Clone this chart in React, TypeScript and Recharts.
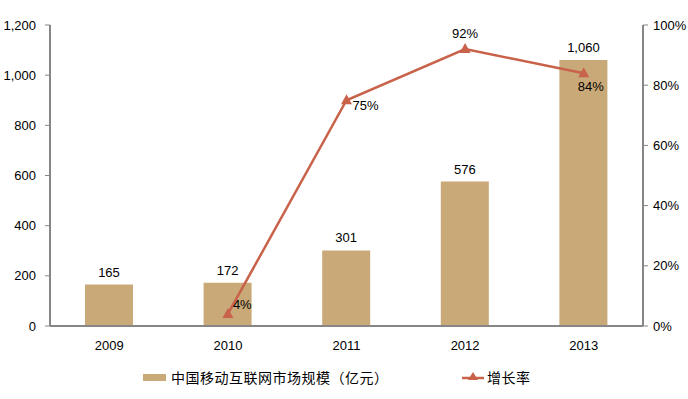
import React from "react";
import {
  ComposedChart,
  Bar,
  Line,
  XAxis,
  YAxis,
  LabelList,
  Legend,
} from "recharts";

const years = ["2009", "2010", "2011", "2012", "2013"];
const marketSize = [165, 172, 301, 576, 1060];
const growth: (number | null)[] = [null, 0.04, 0.75, 0.92, 0.84];
const leftTicks = [0, 200, 400, 600, 800, 1000, 1200];
const rightTicks = [0, 0.2, 0.4, 0.6, 0.8, 1];

const BAR = "#C9A978";
const LINE = "#C8624A";
const AXIS = "#868686";
const FONT = "'Liberation Sans', Arial, sans-serif";
const CJK = "'Noto Sans CJK SC', sans-serif";

const rows = years.map((y, i) => ({
  year: y,
  idx: i + 0.5,
  size: marketSize[i],
  growth: growth[i],
}));

// where each growth label sits relative to its point
const growthOffsets = [
  { dx: 0, dy: 0, anchor: "middle" },
  { dx: 5, dy: -5, anchor: "start" },
  { dx: 6, dy: 10, anchor: "start" },
  { dx: 0, dy: -11, anchor: "middle" },
  { dx: -6, dy: 18, anchor: "start" },
];

function GrowthLabel(props: any) {
  const { x, y, value, index } = props;
  if (value == null) return null;
  const o = growthOffsets[index];
  return (
    <text
      x={x + o.dx}
      y={y + o.dy}
      textAnchor={o.anchor}
      fontSize={13}
      fontFamily={FONT}
      fill="#000"
    >
      {Math.round(value * 100) + "%"}
    </text>
  );
}

function Triangle(props: any) {
  const { cx, cy, value } = props;
  if (value == null || cx == null) return null;
  return (
    <path
      d={`M${cx},${cy - 6} L${cx + 5.5},${cy + 4} L${cx - 5.5},${cy + 4} Z`}
      fill={LINE}
    />
  );
}

function LegendBox() {
  return (
    <div
      style={{
        position: "relative",
        height: 20,
        fontFamily: CJK,
        fontSize: 14,
        letterSpacing: 0.5,
        color: "#000",
      }}
    >
      <div style={{ position: "absolute", left: 143, top: 12, display: "flex", alignItems: "center" }}>
        <span style={{ width: 23, height: 7, background: BAR, display: "inline-block", marginRight: 5 }} />
        <span>中国移动互联网市场规模（亿元）</span>
      </div>
      <div style={{ position: "absolute", left: 462, top: 12, display: "flex", alignItems: "center" }}>
        <svg width={22} height={12} style={{ marginRight: 3 }}>
          <line x1={0} y1={7} x2={22} y2={7} stroke={LINE} strokeWidth={2.5} />
          <path d="M11,1 L16,9 L6,9 Z" fill={LINE} />
        </svg>
        <span>增长率</span>
      </div>
    </div>
  );
}

export default function App() {
  return (
    <div style={{ position: "absolute", left: 0, top: 0, background: "#fff" }}>
      <ComposedChart
        width={688}
        height={399}
        data={rows}
        margin={{ top: 25, right: 0, bottom: 24, left: 0 }}
        barCategoryGap="30%"
      >
        <XAxis
          dataKey="year"
          xAxisId="cat"
          axisLine={{ stroke: AXIS, strokeWidth: 2 }}
          tickLine={false}
          tickMargin={9}
          height={29}
          tick={{ fontSize: 13, fontFamily: FONT, fill: "#000" }}
        />
        <XAxis
          xAxisId="grid"
          type="number"
          dataKey="idx"
          domain={[0, 5]}
          ticks={[0, 1, 2, 3, 4, 5]}
          axisLine={false}
          tick={false}
          tickLine={{ stroke: AXIS }}
          tickSize={5}
          height={0}
          hide={false}
        />
        <YAxis
          yAxisId="left"
          width={50}
          domain={[0, 1200]}
          ticks={leftTicks}
          interval={0}
          axisLine={{ stroke: AXIS, strokeWidth: 2 }}
          tickLine={{ stroke: AXIS }}
          tickSize={5}
          tickMargin={9}
          tickFormatter={(v: number) => v.toLocaleString("en-US")}
          tick={{ fontSize: 13, fontFamily: FONT, fill: "#000" }}
        />
        <YAxis
          yAxisId="right"
          orientation="right"
          width={45}
          domain={[0, 1]}
          ticks={rightTicks}
          interval={0}
          axisLine={{ stroke: AXIS, strokeWidth: 2 }}
          tickLine={{ stroke: AXIS }}
          tickSize={5}
          tickMargin={5}
          tickFormatter={(v: number) => Math.round(v * 100) + "%"}
          tick={{ fontSize: 13, fontFamily: FONT, fill: "#000", textAnchor: "start" }}
        />
        <Bar
          dataKey="size"
          xAxisId="cat"
          yAxisId="left"
          fill={BAR}
          barSize={48}
          isAnimationActive={false}
        >
          <LabelList
            dataKey="size"
            position="top"
            offset={8}
            formatter={(v: number) => v.toLocaleString("en-US")}
            style={{ fontSize: 13, fontFamily: FONT, fill: "#000" }}
          />
        </Bar>
        <Line
          dataKey="growth"
          xAxisId="cat"
          yAxisId="right"
          stroke={LINE}
          strokeWidth={2.5}
          dot={<Triangle />}
          activeDot={false}
          isAnimationActive={false}
        >
          <LabelList dataKey="growth" content={<GrowthLabel />} />
        </Line>
        <Legend verticalAlign="bottom" height={20} content={<LegendBox />} />
      </ComposedChart>
    </div>
  );
}
